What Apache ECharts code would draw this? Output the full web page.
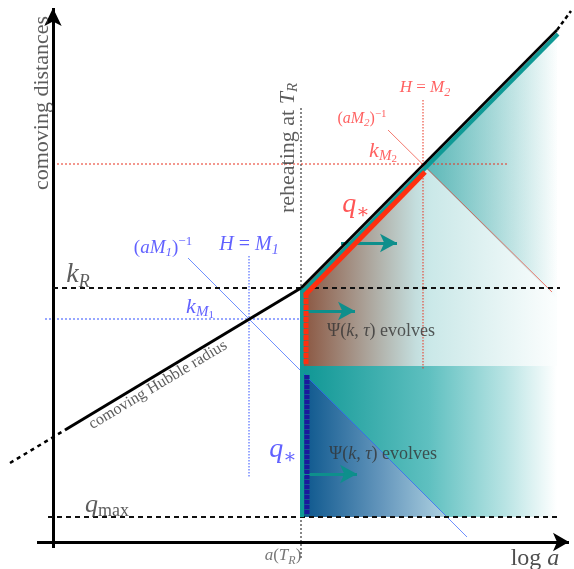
<!DOCTYPE html>
<html><head><meta charset="utf-8">
<script src="https://cdn.jsdelivr.net/npm/echarts@6/dist/echarts.min.js"></script>
<style>html,body{margin:0;padding:0;background:#fff}#c{width:574px;height:569px}</style>
</head><body><div id="c"></div>
<script>
// Schematic coordinates: x = log a (0 at the vertical axis), y = log comoving distance (0 at the horizontal axis)
const xRange = [-53, 521];
const yRange = [-27, 542];

const logaR = 248;          // reheating
const logaEnd = 504;        // right end of shaded regions
const kR = 254;
const qMax = 25;
const qStarTop = 176;

const hubbleLowDashed = [[-43, 79], [12, 112]];
const hubbleLowSolid = [[12, 112], [248, 254]];
const hubbleHighSolid = [[248, 254], [504, 512]];
const hubbleHighDashed = [[504, 512], [518, 531]];

const kM1 = [196, 223];
const kM2 = [370, 377];

const regionUpper = [[248, 254], [504, 512], [504, 176], [248, 176]];
const regionTeal = [[370, 377], [504, 512], [504, 243]];
const regionLower = [[248, 176], [504, 176], [504, 25], [248, 25]];
const regionBlue = [[248, 171], [248, 25], [394, 25]];

const bandTealDiag = [[250, 250.5], [505, 508]];
const bandRedDiag = [[252, 247], [372, 370]];
const bandRedVert = [[253, 249], [253, 177]];
const bandTealVert = [[249, 254], [249, 25]];
const bandBlueVert = [[254, 167], [254, 28]];

const lineReheat = [[248, 434], [248, -18]];
const lineKRdash = [[0, 254], [507, 254]];
const lineQmaxDash = [[-5, 25], [507, 25]];
const lineRedH = [[0, 378], [454, 378]];
const lineRedV = [[370, 442], [370, 172]];
const lineRedDiag = [[335, 412], [499, 250]];
const lineBlueH = [[-8, 223], [248, 223]];
const lineBlueV = [[196, 286], [196, 65]];
const lineBlueDiag = [[135, 284], [414, 5]];

const axisY = [[0, -6], [0, 534]];
const axisX = [[-16, 0], [516, 0]];
const arrowsTeal = [[[288, 299], [344, 299]], [[250, 231], [302, 231]], [[250, 68], [304, 68]]];

// annotation anchors (data coordinates) and texts
const labels = [
  { at: [-11, 439], text: '{r22|comoving distances}', rot: 90, color: '#333' },
  { at: [235, 394], text: '{r22|reheating at }{i22|T}{s15|R}', rot: 90, color: '#333' },
  { at: [25, 267], text: '{i28|k}{s18|R}', rot: 0, color: '#333' },
  { at: [54, 37], text: '{i26|q}{s18r|max}', rot: 0, color: '#333' },
  { at: [105, 157], text: '{r16|comoving Hubble radius}', rot: 31, color: '#333' },
  { at: [110, 294], text: '{r19|(}{i19|aM}{s13|1}{r19|)}{p13|−1}', rot: 0, color: '#3a3aff' },
  { at: [196, 297], text: '{i20|H}{r20| = }{i20|M}{s14|1}', rot: 0, color: '#3a3aff' },
  { at: [147, 235], text: '{i22|k}{s15|M}{ss11|1}', rot: 0, color: '#3a3aff' },
  { at: [230, 92], text: '{i28|q}{s20|∗}', rot: 0, color: '#3a3aff' },
  { at: [372, 454], text: '{i17|H}{r17| = }{i17|M}{s12|2}', rot: 0, color: '#ff3a3a' },
  { at: [309, 423], text: '{r16|(}{i16|aM}{s11|2}{r16|)}{p11|−1}', rot: 0, color: '#ff3a3a' },
  { at: [330, 391], text: '{i22|k}{s15|M}{ss11|2}', rot: 0, color: '#ff3a3a' },
  { at: [303, 337], text: '{i28|q}{s20|∗}', rot: 0, color: '#ff2a2a' },
  { at: [328, 211], text: '{r18|Ψ(}{i18|k, τ}{r18|) evolves}', rot: 0, color: '#333' },
  { at: [330, 88], text: '{r18|Ψ(}{i18|k, τ}{r18|) evolves}', rot: 0, color: '#333' },
  { at: [230, -14], text: '{i17|a}{r17|(}{i17|T}{s12|R}{r17|)}', rot: 0, color: '#555' },
  { at: [482, -17], text: '{r24|log }{i24|a}', rot: 0, color: '#222' }
];

const SERIF = '"Liberation Serif", "DejaVu Serif", serif';
function mkRich() {
  const rich = {};
  for (let s = 8; s <= 30; s++) {
    rich['r' + s] = { fontFamily: SERIF, fontSize: s };
    rich['i' + s] = { fontFamily: SERIF, fontSize: s, fontStyle: 'italic' };
    rich['s' + s] = { fontFamily: SERIF, fontSize: s, fontStyle: 'italic', padding: [Math.round(s * 0.75), 0, 0, 0] };
    rich['s' + s + 'r'] = { fontFamily: SERIF, fontSize: s, padding: [Math.round(s * 0.7), 0, 0, 0] };
    rich['ss' + s] = { fontFamily: SERIF, fontSize: s, padding: [Math.round(s * 1.5), 0, 0, 0] };
    rich['p' + s] = { fontFamily: SERIF, fontSize: s, padding: [0, 0, Math.round(s * 0.9), 0] };
  }
  return rich;
}
const rich = mkRich();

function lineS(data, color, width, type, z) {
  return { type: 'line', data: data, symbol: 'none', silent: true, z: z || 3,
    lineStyle: { color: color, width: width, type: type || 'solid', cap: 'butt' }, animation: false };
}
function regionS(poly, x0, x1, stops, z) {
  return { type: 'custom', data: poly, z: z || 1, silent: true, animation: false,
    renderItem: function (params, api) {
      if (params.dataIndex !== 0) return null;
      const pts = poly.map(p => api.coord(p));
      const gx0 = api.coord([x0, 0])[0], gx1 = api.coord([x1, 0])[0];
      return { type: 'polygon', shape: { points: pts },
        style: { fill: new echarts.graphic.LinearGradient(gx0, 0, gx1, 0, stops, true) } };
    } };
}

const chart = echarts.init(document.getElementById('c'));
const series = [
  regionS(regionUpper, logaR, logaEnd, [
    { offset: 0, color: 'rgb(138,84,62)' },
    { offset: 0.45, color: 'rgb(196,222,222)' },
    { offset: 0.5, color: 'rgb(202,232,232)' },
    { offset: 1, color: 'rgb(252,254,254)' }], 1),
  regionS(regionTeal, kM2[0], logaEnd, [
    { offset: 0, color: 'rgba(15,150,150,0.6)' },
    { offset: 1, color: 'rgba(15,150,150,0)' }], 2),
  regionS(regionLower, logaR, logaEnd, [
    { offset: 0, color: 'rgb(14,150,148)' },
    { offset: 0.5, color: 'rgb(95,192,192)' },
    { offset: 0.8, color: 'rgb(185,228,228)' },
    { offset: 1, color: 'rgb(255,255,255)' }], 1),
  regionS(regionBlue, logaR, 394, [
    { offset: 0, color: 'rgb(10,85,140)' },
    { offset: 0.55, color: 'rgb(100,150,188)' },
    { offset: 1, color: 'rgb(175,210,225)' }], 2),

  lineS(lineReheat, '#111', 1, [2, 2], 4),
  lineS(lineRedH, '#e8301e', 1, [2, 2], 4),
  lineS(lineRedV, '#e8301e', 1, [1.5, 1.5], 4),
  lineS(lineRedDiag, '#ee4030', 0.7, 'solid', 4),
  lineS(lineBlueH, '#3050ff', 1, [2, 2], 4),
  lineS(lineBlueV, '#3050ff', 1, [1.5, 1.5], 4),
  lineS(lineBlueDiag, '#3060ff', 0.7, 'solid', 4),
  lineS(lineKRdash, '#111', 2, [5, 4], 5),
  lineS(lineQmaxDash, '#111', 2, [5, 4], 5),

  lineS(bandTealVert, '#109a96', 4, 'solid', 6),
  lineS(bandBlueVert, '#1a1a9c', 5, [4, 1], 7),
  lineS(bandRedVert, '#ff3010', 5, [5, 1], 7),
  lineS(bandTealDiag, '#109a96', 4, 'solid', 6),
  lineS(bandRedDiag, '#ff3010', 5, 'solid', 7),

  lineS(hubbleLowDashed, '#000', 2.5, [4, 4], 8),
  lineS(hubbleLowSolid, '#000', 3, 'solid', 8),
  lineS(hubbleHighSolid, '#000', 2.5, 'solid', 8),
  lineS(hubbleHighDashed, '#000', 2.5, [4, 3], 8),

  { type: 'line', data: [], silent: true, z: 9, animation: false,
    markLine: { silent: true, animation: false, symbol: ['none', 'arrow'], label: { show: false },
      data: [
        [{ coord: axisY[0], symbolSize: 0 }, { coord: axisY[1], symbolSize: [13, 18] }],
        [{ coord: axisX[0], symbolSize: 0 }, { coord: axisX[1], symbolSize: [14, 16] }]
      ].map(d => { d[0].lineStyle = { color: '#000', width: 3, type: 'solid' }; return d; })
      .concat(arrowsTeal.map(a => [
        { coord: a[0], symbolSize: 0, lineStyle: { color: '#0e8f8c', width: 3, type: 'solid' } },
        { coord: a[1], symbolSize: [14, 17] }]))
    } },

  { type: 'scatter', symbolSize: 0, silent: true, z: 10, animation: false,
    data: labels.map(l => ({ value: l.at,
      label: { show: true, position: 'inside', formatter: l.text, rotate: l.rot, color: l.color,
        align: 'center', verticalAlign: 'middle', rich: rich } })) }
];

chart.setOption({
  animation: false,
  grid: { left: 0, right: 0, top: 0, bottom: 0 },
  xAxis: { type: 'value', min: xRange[0], max: xRange[1], show: false },
  yAxis: { type: 'value', min: yRange[0], max: yRange[1], show: false },
  series: series
});
</script></body></html>
